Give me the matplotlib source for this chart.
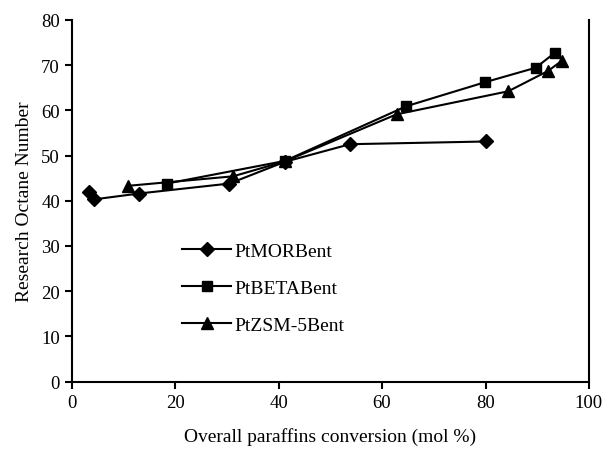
import matplotlib.pyplot as plt

plt.rcParams['font.family'] = ['Liberation Serif', 'DejaVu Serif']

# conversion (mol %) vs research octane number
mor_x = [3.4, 4.3, 13.0, 30.5, 41.2, 53.8, 80.1]
mor_y = [41.9, 40.3, 41.6, 43.8, 48.6, 52.5, 53.1]

beta_x = [18.4, 41.2, 64.7, 79.9, 89.7, 93.4]
beta_y = [43.8, 48.8, 60.9, 66.2, 69.4, 72.7]

zsm_x = [10.9, 31.2, 41.2, 62.8, 84.4, 92.1, 94.7]
zsm_y = [43.3, 45.4, 48.7, 59.1, 64.2, 68.7, 70.9]

fig = plt.figure(figsize=(6.05, 4.52), dpi=100)
ax = fig.add_axes([0.1185, 0.1533, 0.855, 0.8007])

ax.plot(mor_x, mor_y, color='black', lw=1.5, marker='D', ms=7, label='PtMORBent')
ax.plot(beta_x, beta_y, color='black', lw=1.5, marker='s', ms=7, label='PtBETABent')
ax.plot(zsm_x, zsm_y, color='black', lw=1.5, marker='^', ms=8, label='PtZSM-5Bent')

ax.set_xlim(0, 100)
ax.set_ylim(0, 80)
ax.set_xticks(range(0, 101, 20))
ax.set_yticks(range(0, 81, 10))
ax.spines['top'].set_visible(False)
for s in ['left', 'right', 'bottom']:
    ax.spines[s].set_linewidth(1.5)
ax.tick_params(direction='out', length=5, width=1.5, labelsize=13.5)

ax.set_xlabel('Overall paraffins conversion (mol %)', fontsize=14, labelpad=12)
ax.set_ylabel('Research Octane Number', fontsize=14, labelpad=6)

ax.legend(loc='upper left', bbox_to_anchor=(0.18, 0.433), frameon=False,
          fontsize=14, handlelength=2.5, labelspacing=1.0, handletextpad=0.2)

fig.savefig('out.png', dpi=100)
